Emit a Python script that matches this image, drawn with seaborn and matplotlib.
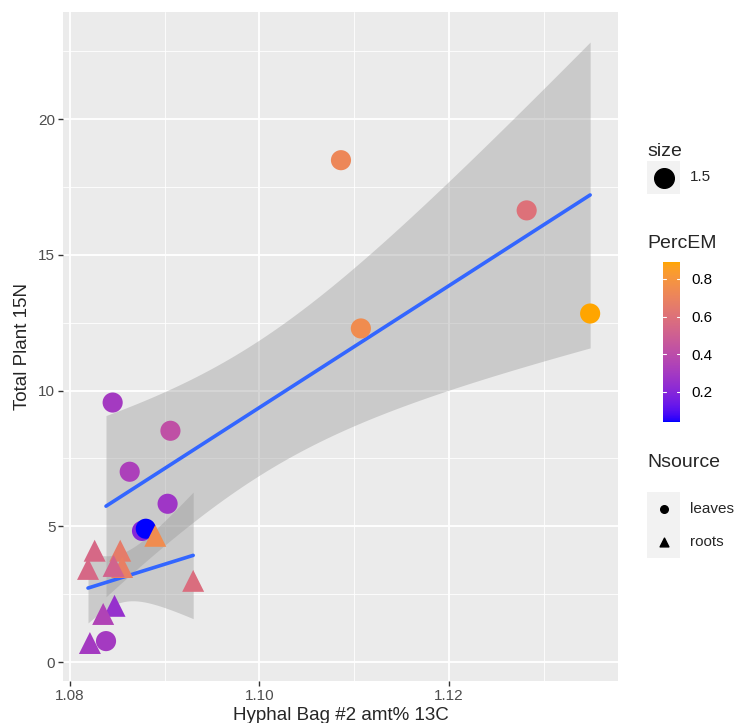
import numpy as np
import pandas as pd
import seaborn as sns
import matplotlib.pyplot as plt
from matplotlib.colors import ListedColormap, Normalize
from matplotlib.cm import ScalarMappable

# data
leaves_x = [1.1086, 1.1282, 1.1349, 1.1107, 1.0845, 1.0906, 1.0863, 1.0903, 1.0876, 1.0880, 1.0838]
leaves_y = [18.49, 16.64, 12.84, 12.29, 9.56, 8.52, 7.01, 5.83, 4.83, 4.91, 0.77]
leaves_em = [0.72, 0.60, 0.89, 0.75, 0.30, 0.42, 0.33, 0.28, 0.20, 0.04, 0.30]

roots_x = [1.0826, 1.0853, 1.0819, 1.0855, 1.0846, 1.0890, 1.0930, 1.0847, 1.0835, 1.0821]
roots_y = [4.10, 4.10, 3.43, 3.50, 3.54, 4.65, 2.99, 2.07, 1.77, 0.70]
roots_em = [0.55, 0.66, 0.55, 0.68, 0.52, 0.75, 0.58, 0.25, 0.35, 0.30]

df = pd.DataFrame({
    "x": leaves_x + roots_x,
    "y": leaves_y + roots_y,
    "PercEM": leaves_em + roots_em,
    "Nsource": ["leaves"] * len(leaves_x) + ["roots"] * len(roots_x),
})


# ggplot-style gradient: blue -> orange interpolated in CIELAB
def srgb_to_lab(c):
    c = np.asarray(c, float)
    lin = np.where(c <= 0.04045, c / 12.92, ((c + 0.055) / 1.055) ** 2.4)
    M = np.array([[0.4124, 0.3576, 0.1805],
                  [0.2126, 0.7152, 0.0722],
                  [0.0193, 0.1192, 0.9505]])
    xyz = M @ lin / np.array([0.95047, 1.0, 1.08883])
    f = np.where(xyz > 0.008856, np.cbrt(xyz), 7.787 * xyz + 16 / 116)
    return np.array([116 * f[1] - 16, 500 * (f[0] - f[1]), 200 * (f[1] - f[2])])


def lab_to_srgb(lab):
    L, a, b = lab
    fy = (L + 16) / 116
    fx = fy + a / 500
    fz = fy - b / 200
    f = np.array([fx, fy, fz])
    xyz = np.where(f ** 3 > 0.008856, f ** 3, (f - 16 / 116) / 7.787)
    xyz = xyz * np.array([0.95047, 1.0, 1.08883])
    Minv = np.array([[3.2406, -1.5372, -0.4986],
                     [-0.9689, 1.8758, 0.0415],
                     [0.0557, -0.2040, 1.0570]])
    lin = Minv @ xyz
    lin = np.clip(lin, 0, 1)
    c = np.where(lin <= 0.0031308, 12.92 * lin, 1.055 * lin ** (1 / 2.4) - 0.055)
    return np.clip(c, 0, 1)


lab_lo = srgb_to_lab([0, 0, 1])
lab_hi = srgb_to_lab([1, 0.647, 0])
cmap = ListedColormap([lab_to_srgb(lab_lo + t * (lab_hi - lab_lo)) for t in np.linspace(0, 1, 256)])
norm = Normalize(min(df["PercEM"]), max(df["PercEM"]))

T975 = {8: 2.306, 9: 2.262}

sns.set_theme(style="darkgrid", rc={
    "axes.facecolor": "#EBEBEB",
    "grid.color": "white",
    "axes.edgecolor": "#EBEBEB",
})
plt.rcParams["font.family"] = ["Liberation Sans", "DejaVu Sans"]

fig = plt.figure(figsize=(7.38, 7.23), dpi=100)
ax = fig.add_axes([63 / 738, 42 / 723, 555 / 738, 669 / 723])

# smooth bands and fitted lines
for src in ["leaves", "roots"]:
    sub = df[df["Nsource"] == src]
    x = sub["x"].to_numpy()
    y = sub["y"].to_numpy()
    n = len(x)
    b, a = np.polyfit(x, y, 1)
    xs = np.linspace(x.min(), x.max(), 80)
    resid = y - (a + b * x)
    s = np.sqrt((resid ** 2).sum() / (n - 2))
    se = s * np.sqrt(1 / n + (xs - x.mean()) ** 2 / ((x - x.mean()) ** 2).sum())
    fit = a + b * xs
    t = T975[n - 2]
    ax.fill_between(xs, fit - t * se, fit + t * se, color="#999999", alpha=0.4, lw=0, zorder=2)
    sns.regplot(data=sub, x="x", y="y", ci=None, scatter=False, ax=ax,
                line_kws={"color": "#3366FF", "lw": 2.6, "zorder": 3})

# points
for src, mk, sz in [("leaves", "o", 210), ("roots", "^", 250)]:
    sub = df[df["Nsource"] == src]
    ax.scatter(sub["x"], sub["y"], c=sub["PercEM"], cmap=cmap, norm=norm,
               marker=mk, s=sz, linewidths=0, zorder=4)

ax.set_xlim(1.07926, 1.13784)
ax.set_ylim(-0.7, 23.95)
ax.set_xticks([1.08, 1.10, 1.12])
ax.set_xticklabels(["1.08", "1.10", "1.12"])
ax.set_yticks([0, 5, 10, 15, 20])
ax.set_xticks([1.09, 1.11, 1.13], minor=True)
ax.set_yticks([2.5, 7.5, 12.5, 17.5, 22.5], minor=True)
ax.grid(which="major", color="white", lw=1.3)
ax.grid(which="minor", color="white", lw=0.6)
ax.tick_params(which="major", length=3.5, width=1, color="#333333", labelsize=11,
               labelcolor="#4D4D4D", pad=2, bottom=True, left=True)
ax.tick_params(which="minor", length=0)
ax.set_xlabel("Hyphal Bag #2 amt% 13C", fontsize=13.5, labelpad=3)
ax.set_ylabel("Total Plant 15N", fontsize=13.5, labelpad=5)
for sp in ax.spines.values():
    sp.set_visible(False)

# legends drawn by hand, ggplot style
def px(xp, yp):
    return xp / 738, 1 - yp / 723

key_bg = "#F2F2F2"

fig.text(*px(647, 152), "size", fontsize=14, va="center", ha="left")
kax = fig.add_axes([647 / 738, 1 - 194 / 723, 33 / 738, 33 / 723])
kax.set_facecolor(key_bg)
kax.set_xticks([]); kax.set_yticks([])
for sp in kax.spines.values():
    sp.set_visible(False)
kax.scatter([0.5], [0.5], s=200, color="black")
kax.set_xlim(0, 1); kax.set_ylim(0, 1)
fig.text(*px(690, 177), "1.5", fontsize=11, va="center", ha="left")

fig.text(*px(647, 243), "PercEM", fontsize=14, va="center", ha="left")
cax = fig.add_axes([663 / 738, 1 - 422 / 723, 17 / 738, 160 / 723])
cb = fig.colorbar(ScalarMappable(norm=norm, cmap=cmap), cax=cax)
cb.outline.set_visible(False)
cb.set_ticks([0.2, 0.4, 0.6, 0.8])
cb.set_ticklabels(["0.2", "0.4", "0.6", "0.8"])
cax.tick_params(length=0, labelsize=11, pad=8, labelcolor="black")
for tv in [0.2, 0.4, 0.6, 0.8]:
    cax.plot([0, 0.2], [tv, tv], color="white", lw=0.8, transform=cax.get_yaxis_transform())
    cax.plot([0.8, 1.0], [tv, tv], color="white", lw=0.8, transform=cax.get_yaxis_transform())

fig.text(*px(647, 463), "Nsource", fontsize=14, va="center", ha="left")
nax = fig.add_axes([647 / 738, 1 - 558 / 723, 33 / 738, 66 / 723])
nax.set_facecolor(key_bg)
nax.set_xticks([]); nax.set_yticks([])
for sp in nax.spines.values():
    sp.set_visible(False)
nax.grid(False)
nax.set_xlim(0, 1); nax.set_ylim(0, 2)
nax.scatter([0.5], [1.5], s=30, marker="o", color="black")
nax.scatter([0.5], [0.5], s=40, marker="^", color="black")
fig.text(*px(690, 509), "leaves", fontsize=11, va="center", ha="left")
fig.text(*px(690, 542), "roots", fontsize=11, va="center", ha="left")

fig.savefig("out.png", dpi=100)
